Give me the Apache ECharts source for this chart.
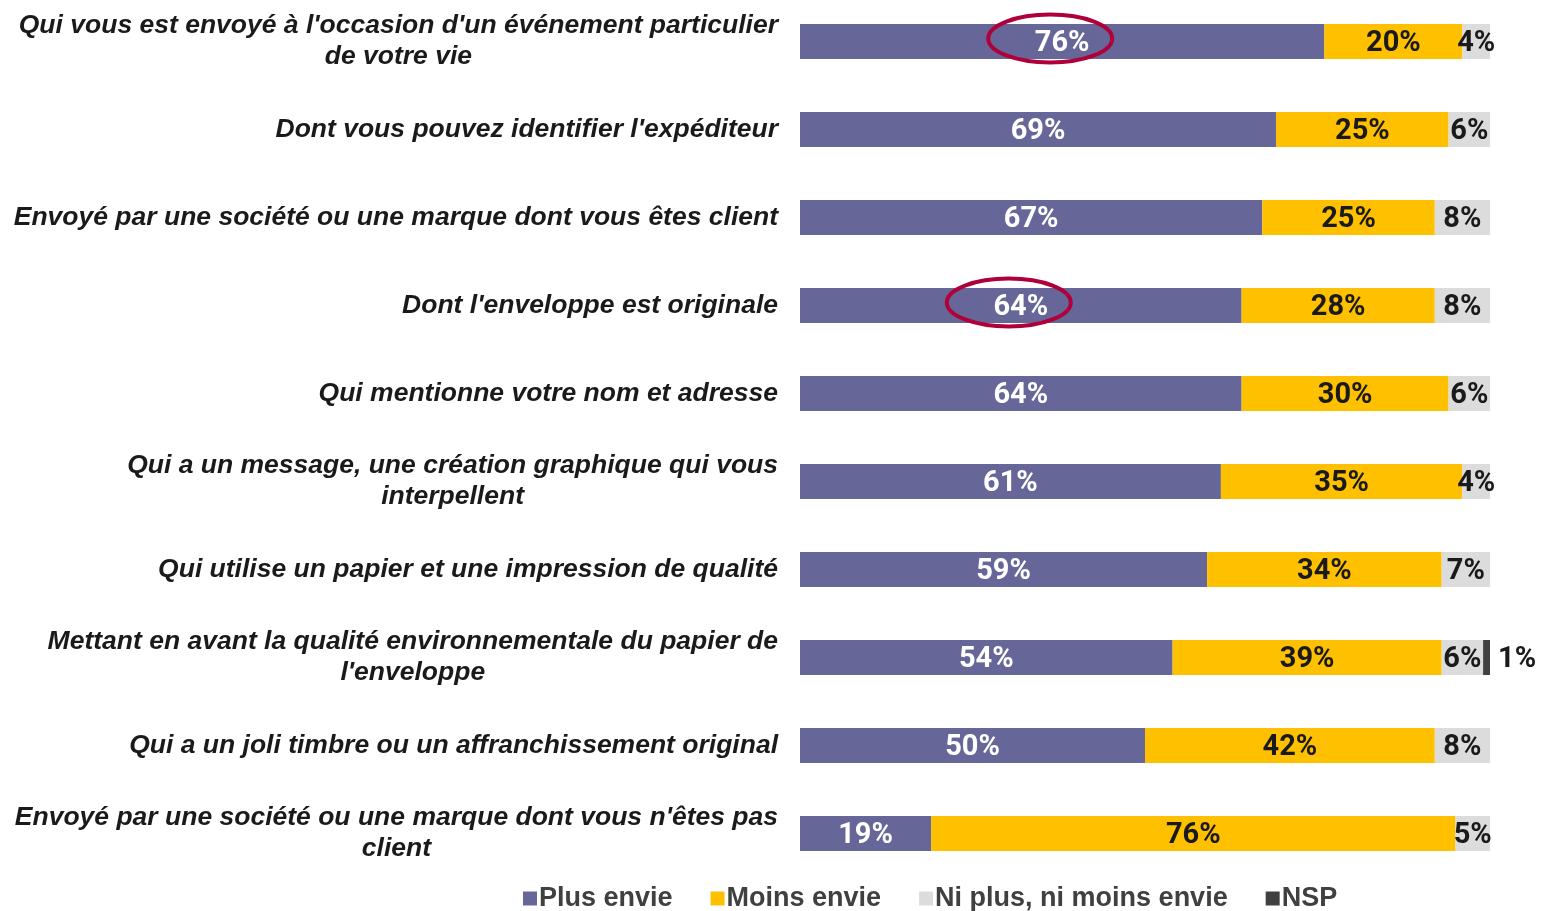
<!DOCTYPE html>
<html lang="fr">
<head>
<meta charset="UTF-8">
<title>chart</title>
<script src="https://cdn.jsdelivr.net/npm/echarts@6/dist/echarts.min.js"></script>
</head>
<body style="margin:0;background:#fff">
<div id="main" style="width:1546px;height:911px;"></div>
<script>
var categories = [
    "Qui vous est envoyé à l'occasion d'un événement particulier\nde votre vie",
    "Dont vous pouvez identifier l'expéditeur",
    "Envoyé par une société ou une marque dont vous êtes client",
    "Dont l'enveloppe est originale",
    "Qui mentionne votre nom et adresse",
    "Qui a un message, une création graphique qui vous\ninterpellent",
    "Qui utilise un papier et une impression de qualité",
    "Mettant en avant la qualité environnementale du papier de\nl'enveloppe",
    "Qui a un joli timbre ou un affranchissement original",
    "Envoyé par une société ou une marque dont vous n'êtes pas\nclient"
];
var plusEnvie = [76, 69, 67, 64, 64, 61, 59, 54, 50, 19];
var moinsEnvie = [20, 25, 25, 28, 30, 35, 34, 39, 42, 76];
var niPlusNiMoins = [4, 6, 8, 8, 6, 4, 7, 6, 8, 5];
var nsp = [0, 0, 0, 0, 0, 0, 0, 1, 0, 0];
var circledRows = [0, 3]; // lignes entourées en rouge

var narrow = "'Liberation Sans Narrow', 'Arial Narrow', 'Liberation Sans', Arial, sans-serif";

function pct(p) {
    return p.value > 0 ? p.value + '%' : '';
}

function barLabel(color, pos) {
    return {
        show: true,
        position: pos || 'inside',
        distance: 8,
        formatter: pct,
        color: color,
        fontFamily: "Roboto, 'Liberation Sans', sans-serif",
        fontWeight: 'bold',
        fontSize: 29,
        offset: [0, 2]
    };
}

var chart = echarts.init(document.getElementById('main'));
var option = {
    backgroundColor: '#fff',
    animation: false,
    grid: { left: 800, right: 56, top: -2.5, bottom: 33.5, containLabel: false, outerBoundsMode: 'none' },
    legend: {
        left: 518,
        top: 880,
        icon: 'rect',
        itemWidth: 14,
        itemHeight: 14,
        itemGap: 38,
        textStyle: { fontFamily: narrow, fontWeight: 'bold', fontSize: 27, color: '#404040', padding: [0, 0, 0, -3] },
        data: ['Plus envie', 'Moins envie', 'Ni plus, ni moins envie', 'NSP']
    },
    xAxis: { type: 'value', min: 0, max: 100, show: false },
    yAxis: {
        type: 'category',
        inverse: true,
        data: categories,
        axisLine: { show: false },
        axisTick: { show: false },
        axisLabel: {
            margin: 22,
            formatter: function (v) {
                return v.split('\n').map(function (s) { return '{c|' + s + '}'; }).join('\n');
            },
            rich: {
                c: {
                    align: 'center',
                    fontFamily: "'Liberation Sans', Arial, sans-serif",
                    fontStyle: 'italic',
                    fontWeight: 'bold',
                    fontSize: 26.5,
                    lineHeight: 31,
                    color: '#1a1a1a'
                }
            }
        }
    },
    series: [
        { name: 'Plus envie', type: 'bar', stack: 't', barWidth: 35, data: plusEnvie,
          itemStyle: { color: '#666699' }, label: barLabel('#fff') },
        { name: 'Moins envie', type: 'bar', stack: 't', data: moinsEnvie,
          itemStyle: { color: '#FFC000' }, label: barLabel('#1a1a1a') },
        { name: 'Ni plus, ni moins envie', type: 'bar', stack: 't', data: niPlusNiMoins,
          itemStyle: { color: '#DCDCDC' }, label: barLabel('#1a1a1a') },
        { name: 'NSP', type: 'bar', stack: 't', data: nsp,
          itemStyle: { color: '#404040' }, label: barLabel('#1a1a1a', 'right') }
    ]
};
chart.setOption(option);

// ellipses rouges autour des valeurs mises en avant
var marks = circledRows.map(function (i) {
    var pt = chart.convertToPixel({ gridIndex: 0 }, [plusEnvie[i] / 2, i]);
    return {
        type: 'ellipse',
        shape: { cx: pt[0] - 12, cy: pt[1] - 3, rx: 62, ry: 24 },
        style: { fill: 'none', stroke: '#B0003A', lineWidth: 4 },
        z: 100
    };
});
chart.setOption({ graphic: marks });
</script>
</body>
</html>
